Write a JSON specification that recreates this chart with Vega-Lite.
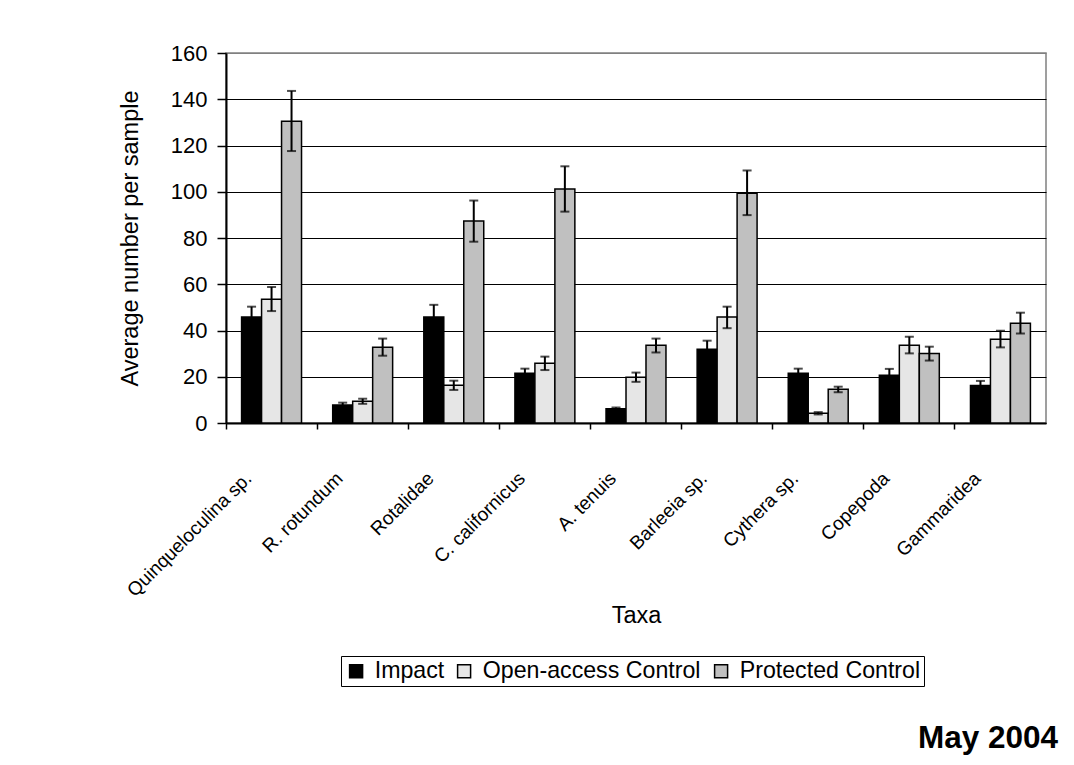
{
  "$schema": "https://vega.github.io/schema/vega-lite/v6.json",
  "width": 820,
  "height": 370,
  "autosize": {"type": "none"},
  "padding": {"left": 226, "top": 53, "right": 28, "bottom": 342},
  "background": "white",
  "config": {
    "font": "Liberation Sans",
    "view": {"stroke": "#808080", "strokeWidth": 1.5}
  },
  "title": {
    "text": "May 2004",
    "orient": "bottom",
    "anchor": "end",
    "frame": "group",
    "fontSize": 31.5,
    "fontWeight": "bold",
    "font": "Liberation Sans",
    "color": "black",
    "dx": 12,
    "offset": 36
  },
  "data": {
    "values": [
      {"taxon": "Quinqueloculina sp.", "group": "Impact", "mean": 45.8, "lo": 41.3, "hi": 50.3},
      {"taxon": "Quinqueloculina sp.", "group": "Open-access Control", "mean": 53.5, "lo": 48.4, "hi": 58.8},
      {"taxon": "Quinqueloculina sp.", "group": "Protected Control", "mean": 130.5, "lo": 117.6, "hi": 143.6},
      {"taxon": "R. rotundum", "group": "Impact", "mean": 7.8, "lo": 6.8, "hi": 8.8},
      {"taxon": "R. rotundum", "group": "Open-access Control", "mean": 9.4, "lo": 8.3, "hi": 10.5},
      {"taxon": "R. rotundum", "group": "Protected Control", "mean": 32.8, "lo": 29.1, "hi": 36.5},
      {"taxon": "Rotalidae", "group": "Impact", "mean": 45.8, "lo": 40.5, "hi": 51.1},
      {"taxon": "Rotalidae", "group": "Open-access Control", "mean": 16.3, "lo": 14.3, "hi": 18.3},
      {"taxon": "Rotalidae", "group": "Protected Control", "mean": 87.3, "lo": 78.4, "hi": 96.2},
      {"taxon": "C. californicus", "group": "Impact", "mean": 21.5, "lo": 19.5, "hi": 23.5},
      {"taxon": "C. californicus", "group": "Open-access Control", "mean": 25.8, "lo": 22.9, "hi": 28.7},
      {"taxon": "C. californicus", "group": "Protected Control", "mean": 101.2, "lo": 91.4, "hi": 111.0},
      {"taxon": "A. tenuis", "group": "Impact", "mean": 6.2, "lo": 5.7, "hi": 6.7},
      {"taxon": "A. tenuis", "group": "Open-access Control", "mean": 19.8, "lo": 17.8, "hi": 21.8},
      {"taxon": "A. tenuis", "group": "Protected Control", "mean": 33.6, "lo": 30.5, "hi": 36.5},
      {"taxon": "Barleeia sp.", "group": "Impact", "mean": 31.9, "lo": 28.2, "hi": 35.6},
      {"taxon": "Barleeia sp.", "group": "Open-access Control", "mean": 45.8, "lo": 41.0, "hi": 50.3},
      {"taxon": "Barleeia sp.", "group": "Protected Control", "mean": 99.4, "lo": 89.9, "hi": 109.2},
      {"taxon": "Cythera sp.", "group": "Impact", "mean": 21.5, "lo": 19.5, "hi": 23.5},
      {"taxon": "Cythera sp.", "group": "Open-access Control", "mean": 4.2, "lo": 3.7, "hi": 4.7},
      {"taxon": "Cythera sp.", "group": "Protected Control", "mean": 14.6, "lo": 13.3, "hi": 15.7},
      {"taxon": "Copepoda", "group": "Impact", "mean": 20.6, "lo": 17.8, "hi": 23.4},
      {"taxon": "Copepoda", "group": "Open-access Control", "mean": 33.6, "lo": 30.1, "hi": 37.3},
      {"taxon": "Copepoda", "group": "Protected Control", "mean": 30.1, "lo": 27.0, "hi": 33.0},
      {"taxon": "Gammaridea", "group": "Impact", "mean": 16.2, "lo": 14.2, "hi": 18.2},
      {"taxon": "Gammaridea", "group": "Open-access Control", "mean": 36.2, "lo": 32.7, "hi": 39.9},
      {"taxon": "Gammaridea", "group": "Protected Control", "mean": 43.1, "lo": 38.7, "hi": 47.7}
    ]
  },
  "encoding": {
    "x": {
      "field": "taxon",
      "type": "nominal",
      "sort": null,
      "scale": {"paddingInner": 0, "paddingOuter": 0},
      "axis": {
        "title": "Taxa",
        "titleFontSize": 23.5,
        "titleFontWeight": "normal",
        "titleColor": "black",
        "titlePadding": 3,
        "labelAngle": -45,
        "labelAlign": "right",
        "labelBaseline": "middle",
        "labelFontSize": 19,
        "labelColor": "black",
        "labelPadding": 46,
        "labelOffset": -23,
        "labelLimit": 400,
        "bandPosition": 0,
        "tickSize": 6,
        "tickWidth": 1.5,
        "tickColor": "black",
        "domainColor": "black",
        "domainWidth": 2,
        "grid": false
      }
    },
    "xOffset": {
      "field": "group",
      "type": "nominal",
      "sort": ["Impact", "Open-access Control", "Protected Control"],
      "scale": {"paddingInner": 0, "paddingOuter": 0.78}
    }
  },
  "layer": [
    {
      "mark": {"type": "bar", "stroke": "black", "strokeWidth": 1.5},
      "encoding": {
        "y": {
          "field": "mean",
          "type": "quantitative",
          "scale": {"domain": [0, 160], "nice": false},
          "axis": {
            "title": "Average number per sample",
            "titleFontSize": 23.5,
            "titleFontWeight": "normal",
            "titleColor": "black",
            "titlePadding": 28,
            "values": [0, 20, 40, 60, 80, 100, 120, 140, 160],
            "labelFontSize": 22,
            "labelColor": "black",
            "labelPadding": 10,
            "tickSize": 9,
            "tickWidth": 1.5,
            "tickColor": "black",
            "domainColor": "black",
            "domainWidth": 2,
            "grid": true,
            "gridColor": {"condition": {"test": "datum.value === 160", "value": "#808080"}, "value": "black"},
            "gridWidth": 1.2
          }
        },
        "fill": {
          "field": "group",
          "type": "nominal",
          "sort": ["Impact", "Open-access Control", "Protected Control"],
          "scale": {
            "domain": ["Impact", "Open-access Control", "Protected Control"],
            "range": ["#000000", "#E6E6E6", "#C0C0C0"]
          },
          "legend": {
            "orient": "none",
            "legendX": 115,
            "legendY": 603,
            "direction": "horizontal",
            "title": null,
            "labelFontSize": 23.2,
            "labelColor": "black",
            "labelLimit": 500,
            "symbolType": "square",
            "symbolSize": 169,
            "symbolStrokeColor": "black",
            "symbolStrokeWidth": 1.5,
            "symbolOpacity": 1,
            "strokeColor": "black",
            "padding": 3.5,
            "columnPadding": 8,
            "labelOffset": 7
          }
        }
      }
    },
    {
      "mark": {"type": "rule", "color": "black", "strokeWidth": 2},
      "encoding": {
        "y": {"field": "lo", "type": "quantitative"},
        "y2": {"field": "hi"}
      }
    },
    {
      "mark": {"type": "tick", "color": "black", "size": 9, "thickness": 2, "orient": "horizontal"},
      "encoding": {
        "y": {"field": "hi", "type": "quantitative"}
      }
    },
    {
      "mark": {"type": "tick", "color": "black", "size": 9, "thickness": 2, "orient": "horizontal"},
      "encoding": {
        "y": {"field": "lo", "type": "quantitative"}
      }
    }
  ]
}
